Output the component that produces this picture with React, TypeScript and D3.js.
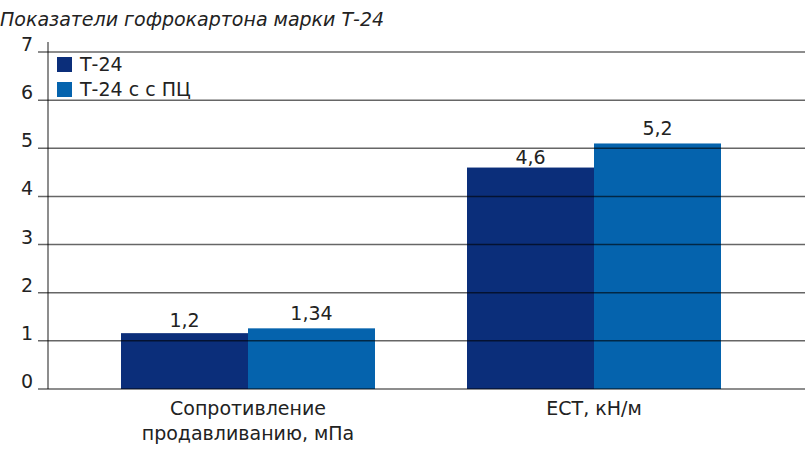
import * as d3 from "d3";
import { useEffect, useRef } from "react";

// chart data
const categories = ["Сопротивление\nпродавливанию, мПа", "ЕСТ, кН/м"];
const seriesNames = ["Т-24", "Т-24 с с ПЦ"];
const seriesColors = ["#0b2e7a", "#0563ad"];
// drawn bar heights (as they appear in the picture)
const t24Values = [1.16, 4.6];
const t24pcValues = [1.26, 5.1];
// value labels printed above the bars
const t24Labels = ["1,2", "4,6"];
const t24pcLabels = ["1,34", "5,2"];
const yTicks = [0, 1, 2, 3, 4, 5, 6, 7];
const title = "Показатели гофрокартона марки Т-24";

const width = 805;
const height = 470;
const font = "'DejaVu Sans', sans-serif";

function App() {
    const ref = useRef<SVGSVGElement>(null);

    useEffect(() => {
        const margin = { top: 52, bottom: 81, left: 48, right: 0 };
        const svg = d3.select(ref.current);
        svg.selectAll("*").remove();

        const x0 = d3.scalePoint<string>()
            .domain(categories)
            .range([248, 594]);

        const x1 = d3.scaleBand<string>()
            .domain(seriesNames)
            .range([-127, 127]);

        const y = d3.scaleLinear()
            .domain([0, 7])
            .range([height - margin.bottom, margin.top]);

        const color = d3.scaleOrdinal<string>()
            .domain(seriesNames)
            .range(seriesColors);

        // title
        svg.append("text")
            .attr("x", 0)
            .attr("y", 26)
            .style("font-family", font)
            .style("font-style", "italic")
            .style("font-size", "19px")
            .attr("fill", "#222")
            .text(title);

        // bars
        const rows = categories.map((c, i) => ({
            cat: c,
            items: [
                { name: seriesNames[0], value: t24Values[i], label: t24Labels[i] },
                { name: seriesNames[1], value: t24pcValues[i], label: t24pcLabels[i] },
            ],
        }));

        const groups = svg.append("g")
            .selectAll("g")
            .data(rows)
            .join("g")
            .attr("transform", (d) => `translate(${x0(d.cat)},0)`);

        groups.selectAll("rect")
            .data((d) => d.items)
            .join("rect")
            .attr("x", (d) => x1(d.name)!)
            .attr("y", (d) => y(d.value))
            .attr("width", x1.bandwidth())
            .attr("height", (d) => y(0) - y(d.value))
            .attr("fill", (d) => color(d.name));

        groups.selectAll("text")
            .data((d) => d.items)
            .join("text")
            .attr("x", (d) => x1(d.name)! + x1.bandwidth() / 2)
            .attr("y", (d) => y(+d.label.replace(",", ".")) - 4)
            .attr("text-anchor", "middle")
            .style("font-family", font)
            .style("font-size", "19px")
            .attr("fill", "#222")
            .text((d) => d.label);

        // grid lines drawn over the bars
        svg.append("g")
            .selectAll("line")
            .data(yTicks)
            .join("line")
            .attr("x1", margin.left - 10)
            .attr("x2", width - margin.right)
            .attr("y1", (d) => y(d))
            .attr("y2", (d) => y(d))
            .attr("stroke", "#000")
            .attr("stroke-opacity", 0.6)
            .attr("stroke-width", 1.5);

        svg.append("line")
            .attr("x1", margin.left)
            .attr("x2", margin.left)
            .attr("y1", margin.top - 10)
            .attr("y2", y(0))
            .attr("stroke", "#000")
            .attr("stroke-opacity", 0.6)
            .attr("stroke-width", 1.5);

        // y tick labels
        svg.append("g")
            .selectAll("text")
            .data(yTicks)
            .join("text")
            .attr("x", 33)
            .attr("y", (d) => y(d) - 1)
            .attr("text-anchor", "end")
            .style("font-family", font)
            .style("font-size", "19px")
            .attr("fill", "#222")
            .text((d) => d);

        // category labels
        svg.append("g")
            .selectAll("text")
            .data(categories)
            .join("text")
            .attr("text-anchor", "middle")
            .style("font-family", font)
            .style("font-size", "19px")
            .attr("fill", "#222")
            .each(function (d) {
                d3.select(this)
                    .selectAll("tspan")
                    .data(d.split("\n"))
                    .join("tspan")
                    .attr("x", x0(d)!)
                    .attr("y", (_, i) => 415 + i * 25)
                    .text((t) => t);
            });

        // legend
        const legend = svg.append("g")
            .selectAll("g")
            .data(seriesNames)
            .join("g")
            .attr("transform", (_, i) => `translate(57,${57 + i * 25})`);

        legend.append("rect")
            .attr("width", 15)
            .attr("height", 15)
            .attr("fill", (d) => color(d));

        legend.append("text")
            .attr("x", 23)
            .attr("y", 14)
            .style("font-family", font)
            .style("font-size", "19px")
            .attr("fill", "#222")
            .text((d) => d);
    }, []);

    return (
        <svg
            ref={ref}
            width={width}
            height={height}
            style={{ position: "absolute", left: 0, top: 0, display: "block", background: "#fff" }}
        />
    );
}

export default App;
